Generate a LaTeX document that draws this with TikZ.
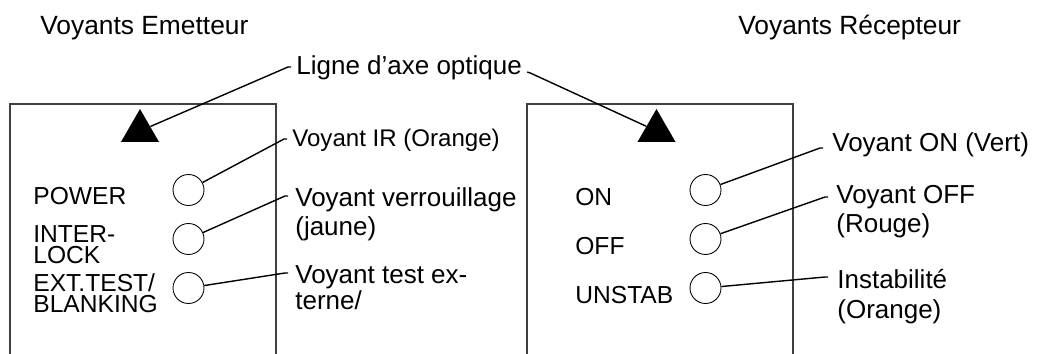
\documentclass[tikz,border=0pt]{standalone}
\usepackage{fontspec}
\setmainfont{Liberation Sans}
\usetikzlibrary{shapes.geometric, calc}

\begin{document}
\begin{tikzpicture}[
    x=0.02cm, y=-0.02cm, % one unit = one pixel of the sheet, y going down
    panel/.style={
        draw=black!75,
        line width=0.6pt
    },
    led/.style={
        circle,
        draw,
        line width=0.5pt,
        minimum size=0.62cm,
        inner sep=0pt
    },
    axis_mark/.style={
        regular polygon,
        regular polygon sides=3,
        fill=black,
        minimum size=0.88cm,
        inner sep=0pt
    },
    title/.style={
        anchor=base west,
        inner sep=0pt,
        font=\fontsize{15}{17}\selectfont
    },
    callout/.style={ % base is the baseline of the last line
        anchor=base west,
        inner sep=0pt,
        align=left,
        font=\fontsize{14.8}{17}\selectfont
    },
    tag/.style={
        anchor=base west,
        inner sep=0pt,
        align=left,
        font=\fontsize{14}{12}\selectfont
    },
    leader/.style={
        line width=0.8pt
    }
]
    \useasboundingbox (0,0) rectangle (1037,354);

    % Titles
    \node[title] (temit) at (40,35) {Voyants Emetteur};
    \node[title] (trecv) at (738,35) {Voyants Récepteur};

    % Panels, open at the bottom
    \draw[panel] (10,356) -- (10,104) -- (276,104) -- (276,356);
    \draw[panel] (527,356) -- (527,104) -- (793,104) -- (793,356);

    % Optical axis marks
    \node[axis_mark] (axe1) at (140,131) {};
    \node[axis_mark] (axe2) at (656.5,131) {};
    \node[callout] (ligne) at (296,75) {Ligne d'axe optique};
    \draw[leader] (axe1) -- ($(ligne.base west)+(-8,-8)$) -- ++(3,0);
    \draw[leader] (axe2) -- ($(ligne.base east)+(8,-2)$) -- ++(-3,-1);

    % Emitter, LEDs
    \node[tag] (power) at (33,205) {POWER};
    \node[tag] (inter) at (33,264) {INTER-\\LOCK};
    \node[tag] (ext) at (33,313) {EXT.TEST/\\BLANKING};
    \node[led] (led1) at (188.5,190) {};
    \node[led] (led2) at (188.5,239) {};
    \node[led] (led3) at (188.5,288) {};

    % Emitter, callouts
    \node[callout, font=\fontsize{13.7}{16}\selectfont] (ir) at (292,147) {Voyant IR (Orange)};
    \node[callout] (verr) at (295,236) {Voyant verrouillage\\(jaune)};
    \node[callout, font=\fontsize{14.8}{15}\selectfont] (test) at (295,310) {Voyant test ex-\\terne/};
    \draw[leader] (led1) -- ($(ir.base west)+(-8,-8)$) -- ++(3,0);
    \draw[leader] (led2) -- ($(verr.base west)+(-10,-40)$) -- ++(3,0);
    \draw[leader] (led3) -- ($(test.base west)+(-10,-37)$) -- ++(3,0);

    % Receiver, LEDs
    \node[tag] (on) at (575,206) {ON};
    \node[tag] (off) at (575,255) {OFF};
    \node[tag] (unstab) at (575,303) {UNSTAB};
    \node[led] (led4) at (705.5,190) {};
    \node[led] (led5) at (705.5,239) {};
    \node[led] (led6) at (705.5,288) {};

    % Receiver, callouts
    \node[callout] (von) at (832,152) {Voyant ON (Vert)};
    \node[callout] (voff) at (836,233) {Voyant OFF\\(Rouge)};
    \node[callout] (instab) at (837,318) {Instabilité\\(Orange)};
    \draw[leader] (led4) -- ($(von.base west)+(-12,-4)$) -- ++(3,0);
    \draw[leader] (led5) -- ($(voff.base west)+(-11,-36)$) -- ++(3,0);
    \draw[leader] (led6) -- ($(instab.base west)+(-12,-41)$) -- ++(3,0);

\end{tikzpicture}
\end{document}
